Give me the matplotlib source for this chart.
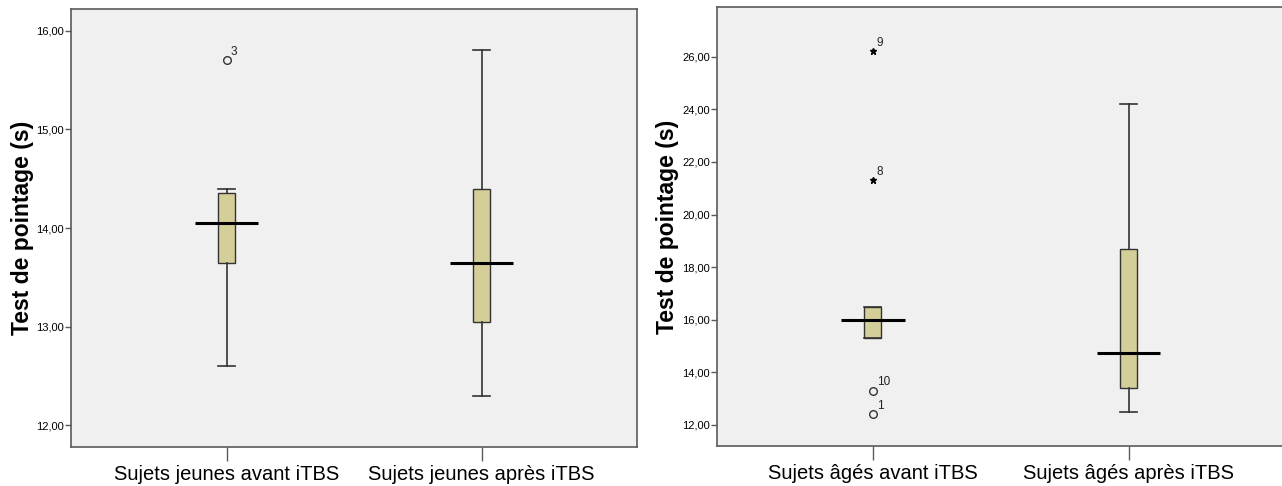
import numpy as np
import matplotlib
matplotlib.use("Agg")
import matplotlib.pyplot as plt
from matplotlib.ticker import FuncFormatter, MultipleLocator

plt.rcParams["font.family"] = ["Liberation Sans", "DejaVu Sans"]

# -----------------------------
# Données
# -----------------------------
labels_jeunes = ["Sujets jeunes avant iTBS", "Sujets jeunes après iTBS"]
whislo_jeunes = [12.6, 12.3]
q1_jeunes = [13.65, 13.05]
med_jeunes = [14.05, 13.65]
q3_jeunes = [14.35, 14.4]
whishi_jeunes = [14.4, 15.8]
# valeurs aberrantes (cercles)
out_pos_jeunes = [1]
out_val_jeunes = [15.7]
out_lab_jeunes = ["3"]

labels_ages = ["Sujets âgés avant iTBS", "Sujets âgés après iTBS"]
whislo_ages = [15.3, 12.5]
q1_ages = [15.3, 13.4]
med_ages = [16.0, 14.75]
q3_ages = [16.5, 18.7]
whishi_ages = [16.5, 24.2]
out_pos_ages = [1, 1]
out_val_ages = [13.3, 12.4]
out_lab_ages = ["10", "1"]
# valeurs extrêmes (étoiles)
ext_pos_ages = [1, 1]
ext_val_ages = [26.2, 21.3]
ext_lab_ages = ["9", "8"]

BG = "#f0f0f0"
BOX = "#d4cf98"
EDGE = "#333333"
SPINE = "#5a5a5a"


def fmt_virgule(v, pos):
    return f"{v:.2f}".replace(".", ",")


def draw_panel(ax, labels, whislo, q1, med, q3, whishi,
               out_pos, out_val, out_lab, ext_pos=(), ext_val=(), ext_lab=()):
    stats = []
    for i in range(len(labels)):
        stats.append(dict(med=med[i], q1=q1[i], q3=q3[i],
                          whislo=whislo[i], whishi=whishi[i], fliers=[]))
    pos = np.arange(1, len(labels) + 1)
    ax.bxp(stats, positions=pos, widths=0.065, patch_artist=True,
           showfliers=False,
           boxprops=dict(facecolor=BOX, edgecolor=EDGE, linewidth=1.0),
           whiskerprops=dict(color=EDGE, linewidth=1.2),
           capprops=dict(color=EDGE, linewidth=1.2),
           capwidths=0.065,
           medianprops=dict(visible=False))
    # médiane plus large que la boîte
    ax.hlines(med, pos - 0.125, pos + 0.125, colors="black", linewidth=2.2, zorder=4)

    ax.plot(out_pos, out_val, "o", mfc="none", mec=EDGE, ms=5.5, mew=1.0, zorder=5)
    for x, y, t in zip(out_pos, out_val, out_lab):
        ax.annotate(t, (x, y), xytext=(3, 2), textcoords="offset points",
                    fontsize=8.5, color="#222222", ha="left", va="bottom")
    if len(ext_val):
        ax.plot(ext_pos, ext_val, "*", color="black", ms=5, zorder=5)
        for x, y, t in zip(ext_pos, ext_val, ext_lab):
            ax.annotate(t, (x, y), xytext=(3, 2), textcoords="offset points",
                        fontsize=8.5, color="#222222", ha="left", va="bottom")

    ax.set_facecolor(BG)
    for s in ax.spines.values():
        s.set_color(SPINE)
        s.set_linewidth(1.2)
    ax.set_xticks(pos)
    ax.set_xticklabels(labels, fontsize=14.5)
    ax.tick_params(axis="x", length=10, width=1.0, color=SPINE, pad=3)
    ax.tick_params(axis="y", length=4, width=1.0, color=SPINE, labelsize=8, pad=1)
    ax.yaxis.set_major_formatter(FuncFormatter(fmt_virgule))
    ax.set_ylabel("Test de pointage (s)", fontsize=16.5, fontweight="bold", labelpad=2)


fig = plt.figure(figsize=(12.82, 4.86), dpi=100)
fig.patch.set_facecolor("white")

ax1 = fig.add_axes([0.0554, 0.0802, 0.4415, 0.9013])
draw_panel(ax1, labels_jeunes, whislo_jeunes, q1_jeunes, med_jeunes, q3_jeunes,
           whishi_jeunes, out_pos_jeunes, out_val_jeunes, out_lab_jeunes)
ax1.set_xlim(0.39, 2.61)
ax1.set_ylim(11.78, 16.22)
ax1.yaxis.set_major_locator(MultipleLocator(1))

ax2 = fig.add_axes([0.559, 0.0823, 0.446, 0.9033])
draw_panel(ax2, labels_ages, whislo_ages, q1_ages, med_ages, q3_ages,
           whishi_ages, out_pos_ages, out_val_ages, out_lab_ages,
           ext_pos_ages, ext_val_ages, ext_lab_ages)
ax2.set_xlim(0.39, 2.625)
ax2.set_ylim(11.2, 27.89)
ax2.set_yticks(np.arange(12, 27, 2))

fig.savefig("out.png", dpi=100)
